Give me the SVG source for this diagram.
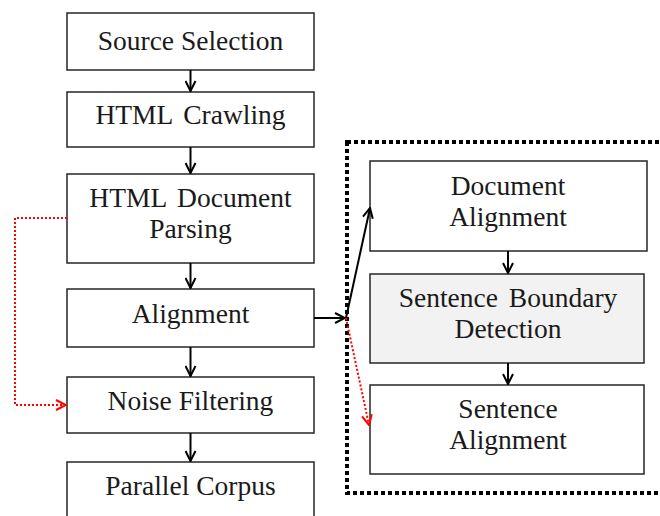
<svg xmlns="http://www.w3.org/2000/svg" width="660" height="516" viewBox="0 0 660 516">
<style>
.box{fill:#fff;stroke:#262626;stroke-width:1.5}
.grey{fill:#f2f2f2}
.t{font-family:"Liberation Serif","Times New Roman",serif;font-size:27.5px;fill:#1a1a1a;text-anchor:middle}
.c{fill:none;stroke:#000;stroke-width:2}
.r{fill:none;stroke:#ff0000;stroke-width:2;stroke-dasharray:2 2}
.ah{fill:none;stroke:#000;stroke-width:2}
.ahr{fill:none;stroke:#ff0000;stroke-width:2}
</style>
<defs>
<marker id="a" viewBox="0 0 12 12" refX="11" refY="6" markerWidth="12" markerHeight="12" markerUnits="userSpaceOnUse" orient="auto">
<path d="M1,1 L11,6 L1,11" class="ah"/>
</marker>
<marker id="ar" viewBox="0 0 12 12" refX="11" refY="6" markerWidth="12" markerHeight="12" markerUnits="userSpaceOnUse" orient="auto">
<path d="M1,1 L11,6 L1,11" class="ahr"/>
</marker>
</defs>
<rect x="347" y="142" width="330" height="351" fill="none" stroke="#000" stroke-width="4" stroke-dasharray="4 3"/>
<g id="n1"><rect class="box" x="67" y="13" width="247" height="57"/><text class="t" x="190.5" y="50">Source Selection</text></g>
<g id="n2"><rect class="box" x="67" y="92" width="247" height="55"/><text class="t" x="190.5" y="124" word-spacing="4">HTML Crawling</text></g>
<g id="n3"><rect class="box" x="67" y="174" width="247" height="89"/><text class="t" x="190.5" y="207" word-spacing="4">HTML Document</text><text class="t" x="190.5" y="238">Parsing</text></g>
<g id="n4"><rect class="box" x="67" y="289" width="247" height="58"/><text class="t" x="190.5" y="323">Alignment</text></g>
<g id="n5"><rect class="box" x="67" y="377" width="247" height="56"/><text class="t" x="190.5" y="410">Noise Filtering</text></g>
<g id="n6"><rect class="box" x="67" y="462" width="247" height="70"/><text class="t" x="190.5" y="495">Parallel Corpus</text></g>
<g id="n7"><rect class="box" x="370" y="161" width="277" height="90"/><text class="t" x="508" y="195">Document</text><text class="t" x="508" y="226">Alignment</text></g>
<g id="n8"><rect class="box grey" x="370" y="274" width="274" height="89"/><text class="t" x="508" y="307" word-spacing="4">Sentence Boundary</text><text class="t" x="508" y="338">Detection</text></g>
<g id="n9"><rect class="box" x="370" y="385" width="274" height="89"/><text class="t" x="508" y="418">Sentence</text><text class="t" x="508" y="449">Alignment</text></g>
<g id="connectors">
<line class="c" x1="190.5" y1="70" x2="190.5" y2="91" marker-end="url(#a)"/>
<line class="c" x1="190.5" y1="147" x2="190.5" y2="173" marker-end="url(#a)"/>
<line class="c" x1="190.5" y1="263" x2="190.5" y2="288" marker-end="url(#a)"/>
<line class="c" x1="190.5" y1="347" x2="190.5" y2="376" marker-end="url(#a)"/>
<line class="c" x1="190.5" y1="433" x2="190.5" y2="461" marker-end="url(#a)"/>
<line class="c" x1="314" y1="318" x2="345" y2="318" marker-end="url(#a)"/>
<line class="c" x1="346" y1="318" x2="370" y2="208" marker-end="url(#a)"/>
<polyline class="r" points="346,318 369,425" marker-end="url(#ar)"/>
<polyline class="r" points="67,218 15,218 15,405 66,405" marker-end="url(#ar)"/>
<line class="c" x1="508" y1="251" x2="508" y2="273" marker-end="url(#a)"/>
<line class="c" x1="508" y1="363" x2="508" y2="384" marker-end="url(#a)"/>
</g>
</svg>
